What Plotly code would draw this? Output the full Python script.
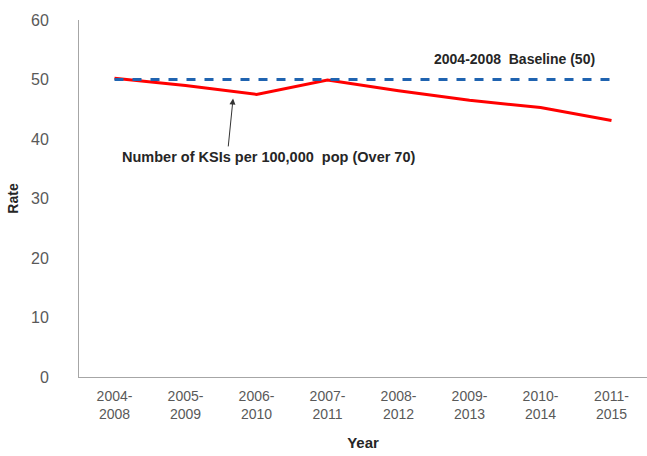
import plotly.graph_objects as go

categories = ["2004-<br>2008", "2005-<br>2009", "2006-<br>2010", "2007-<br>2011",
              "2008-<br>2012", "2009-<br>2013", "2010-<br>2014", "2011-<br>2015"]
ksi_rate = [50.2, 49.0, 47.5, 49.9, 48.1, 46.5, 45.3, 43.1]
baseline = [50, 50, 50, 50, 50, 50, 50, 50]
y_ticks = [0, 10, 20, 30, 40, 50, 60]

x_idx = list(range(len(categories)))
FONT = "Liberation Sans, Arial, sans-serif"

fig = go.Figure()
fig.add_trace(go.Scatter(x=x_idx, y=ksi_rate, mode="lines",
                         line=dict(color="#ff0000", width=3), showlegend=False))
fig.add_trace(go.Scatter(x=x_idx, y=baseline, mode="lines",
                         line=dict(color="#1f63b0", width=3, dash="dash"), showlegend=False))

fig.add_annotation(x=5.63, y=53.4, text="<b>2004-2008  Baseline (50)</b>", showarrow=False,
                   font=dict(family=FONT, size=14, color="#262626"))
fig.add_annotation(x=2.17, y=36.9, text="<b>Number of KSIs per 100,000  pop (Over 70)</b>",
                   showarrow=False, font=dict(family=FONT, size=14.5, color="#262626"))
fig.add_annotation(x=1.67, y=46.8, ax=1.6, ay=38.5, axref="x", ayref="y",
                   text="", showarrow=True, arrowhead=2, arrowsize=1.2, arrowwidth=1,
                   arrowcolor="#333333")

fig.update_layout(
    width=647, height=456,
    margin=dict(l=79, r=0, t=20, b=79),
    paper_bgcolor="white", plot_bgcolor="white",
    font=dict(family=FONT, size=14, color="#595959"),
    xaxis=dict(range=[-0.5, 7.5], tickvals=x_idx, ticktext=categories,
               showgrid=False, zeroline=False, showline=True, linecolor="#a6a6a6",
               linewidth=1, ticks="", tickfont=dict(size=14), ticklabelstandoff=6,
               title=dict(text="<b>Year</b>", font=dict(size=15, color="#262626"), standoff=16)),
    yaxis=dict(range=[0, 60], tickvals=y_ticks, showgrid=False, zeroline=False,
               showline=True, linecolor="#a6a6a6", linewidth=1, ticks="",
               ticklabelstandoff=26, tickfont=dict(size=16),
               title=dict(text="<b>Rate</b>", font=dict(size=14, color="#262626"), standoff=9)),
)

fig.write_html("out.html")
